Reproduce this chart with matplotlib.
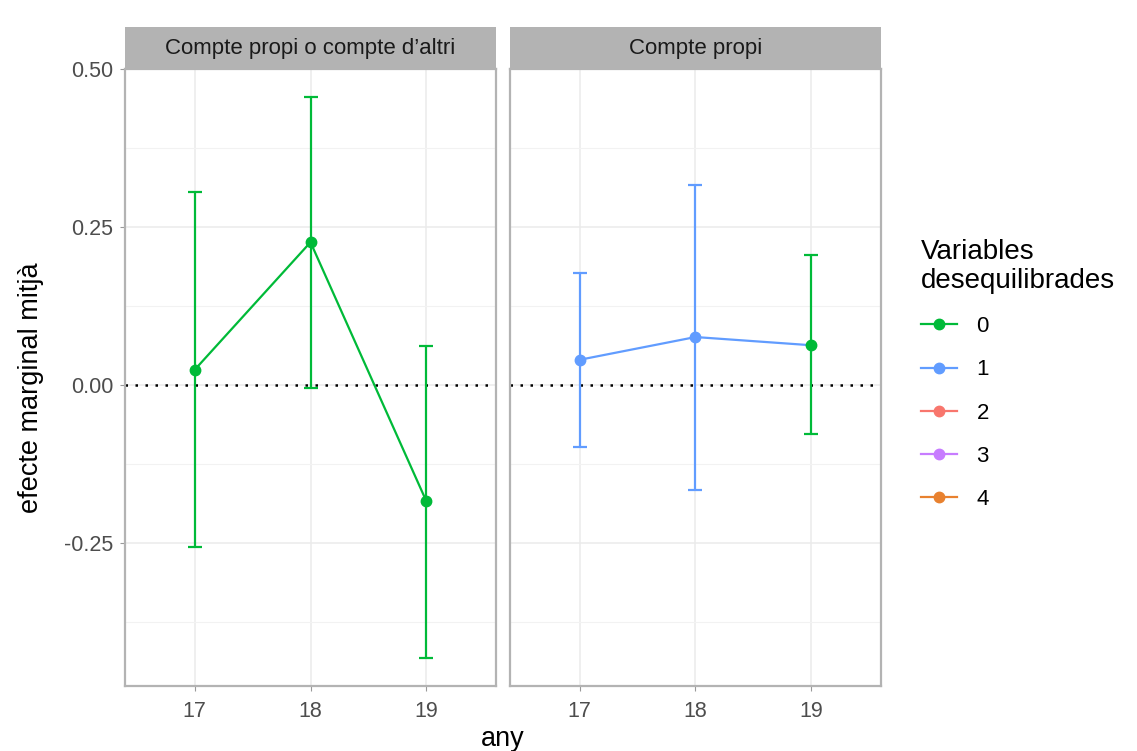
import numpy as np
import matplotlib
matplotlib.use("Agg")
import matplotlib.pyplot as plt
from matplotlib.lines import Line2D

plt.rcParams['font.family'] = ['Liberation Sans', 'DejaVu Sans']

# data
panels = ["Compte propi o compte d\u2019altri", "Compte propi"]
years = [17, 18, 19]
est = [[0.024, 0.226, -0.184],
       [0.040, 0.076, 0.063]]
lower = [[-0.256, -0.005, -0.432],
         [-0.098, -0.166, -0.078]]
upper = [[0.305, 0.456, 0.062],
         [0.177, 0.316, 0.206]]
point_group = [[0, 0, 0],
               [1, 1, 0]]
line_group = [0, 1]
levels = ["0", "1", "2", "3", "4"]
colors = ["#00BA38", "#619CFF", "#F8766D", "#C77CFF", "#E8812F"]

W, H = 1137, 751
fig = plt.figure(figsize=(W / 100, H / 100), dpi=100)

panel_x = [125, 510]
panel_w = 371
panel_top, panel_bot = 69, 686
strip_top = 27

grey70 = "#B3B3B3"
gridc = "#EBEBEB"

for p in range(2):
    ax = fig.add_axes([panel_x[p] / W, (H - panel_bot) / H, panel_w / W, (panel_bot - panel_top) / H])
    ax.set_xlim(16.4, 19.6)
    ax.set_ylim(-0.476, 0.50)
    ax.set_yticks([-0.25, 0, 0.25, 0.5])
    ax.set_yticks([-0.375, -0.125, 0.125, 0.375], minor=True)
    ax.set_xticks(years)
    ax.grid(True, which='major', color=gridc, lw=1.1, zorder=0)
    ax.grid(True, which='minor', axis='y', color="#F2F2F2", lw=0.8, zorder=0)
    ax.set_axisbelow(True)
    for s in ax.spines.values():
        s.set_color(grey70)
        s.set_linewidth(1.6)
    ax.tick_params(which='major', length=3.5, color="#999999", labelsize=15.5,
                   labelcolor="#4D4D4D", width=0.8)
    ax.tick_params(axis='x', pad=7)
    ax.tick_params(axis='y', pad=5)
    ax.tick_params(which='minor', length=0)
    ax.set_yticklabels(["-0.25", "0.00", "0.25", "0.50"])
    if p == 1:
        ax.tick_params(axis='y', left=False, labelleft=False)

    ax.axhline(0, color="black", lw=1.8, ls=(0, (1, 3)), zorder=2)

    # line
    ax.plot(years, est[p], color=colors[line_group[p]], lw=1.6, zorder=3)
    for i, x in enumerate(years):
        c = colors[point_group[p][i]]
        ax.errorbar(x, est[p][i],
                    yerr=[[est[p][i] - lower[p][i]], [upper[p][i] - est[p][i]]],
                    fmt='none', ecolor=c, elinewidth=1.6, capsize=5, capthick=1.6, zorder=3)
        ax.plot(x, est[p][i], 'o', color=c, ms=7.5, zorder=4)

    # strip
    sax = fig.add_axes([panel_x[p] / W, (H - panel_top) / H, panel_w / W, (panel_top - strip_top) / H])
    sax.set_facecolor(grey70)
    sax.set_xticks([])
    sax.set_yticks([])
    for s in sax.spines.values():
        s.set_visible(False)
    sax.text(0.5, 0.48, panels[p], ha='center', va='center', fontsize=16, color="#1A1A1A",
             transform=sax.transAxes)

fig.text(31 / W, (H - 388) / H, "efecte marginal mitj\u00e0", rotation=90, ha='center', va='center',
         fontsize=19.5, color="black")
fig.text(503 / W, (H - 739) / H, "any", ha='center', va='center', fontsize=19.5, color="black")

handles = [Line2D([], [], color=c, lw=1.6, marker='o', ms=7.5) for c in colors]
leg = fig.legend(handles, levels, title="Variables\ndesequilibrades", loc='upper left',
                 bbox_to_anchor=(901 / W, (H - 219) / H), frameon=False, fontsize=16,
                 title_fontsize=20, handlelength=1.6, labelspacing=1.0, handletextpad=0.9)
leg._legend_box.align = "left"
leg.get_title().set_linespacing(1.15)

fig.savefig("out.png", dpi=100, facecolor="white")
